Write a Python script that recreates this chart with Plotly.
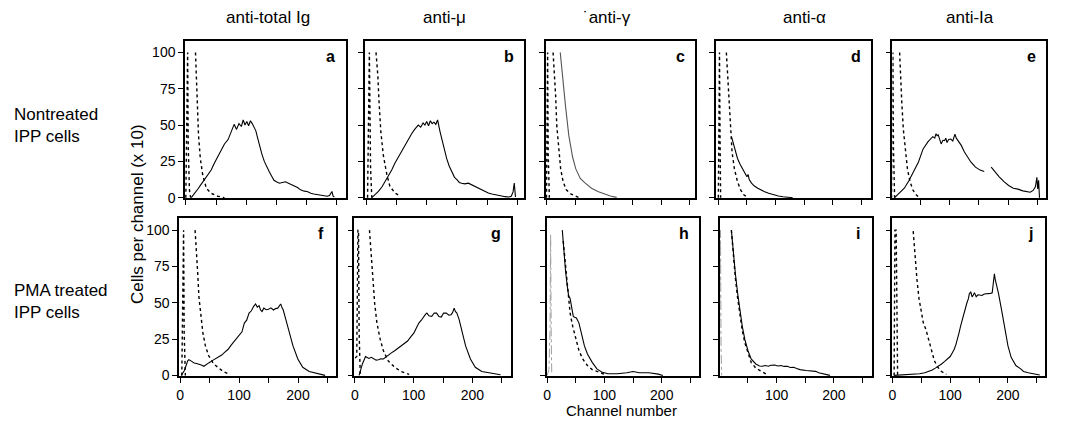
import plotly.graph_objects as go

# --- data (channel number, cells per channel x10) ---
# stained sample = solid line, controls = dotted lines

# a  anti-total Ig, nontreated
a_x = [9, 15, 20, 25, 30, 36, 42, 47, 53, 58, 64, 70, 75, 80, 84, 88, 92, 95, 98, 101, 104, 107, 110, 113,
       116, 119, 122, 126, 130, 134, 138, 142, 146, 150, 155, 160, 165, 170, 175, 180, 185, 190, 196, 201,
       207, 212, 218, 223, 229, 234, 238, 242, 244, 246]
a_y = [0, 3, 6, 9, 12, 15.5, 19, 23.5, 28, 32.5, 37, 40, 45, 50.5, 47, 51, 49, 53.5, 50, 52.5, 49.5, 53, 51, 48.5,
       46, 41, 36, 30, 25, 21, 18, 15, 12, 11, 10, 10.5, 11, 10, 9, 8.5, 7, 5.4, 4.5, 4.3,
       3, 2.5, 2, 1.6, 1.2, 1, 1.5, 4.3, 1, 0.5]
a_c1_x = [0, 2, 3, 4, 6, 8]
a_c1_y = [0, 100, 100, 35, 5, 0]
a_c2_x = [16, 17, 19, 21, 24, 28, 34, 42, 53, 64]
a_c2_y = [100, 90, 65, 43, 27, 15.6, 6.5, 3, 1, 0]

# b  anti-mu, nontreated
b_x = [9, 14, 20, 26, 31, 36, 42, 47, 53, 58, 64, 70, 75, 80, 86, 90, 94, 97, 100, 103, 106, 109, 112, 115,
       118, 122, 125, 128, 133, 137, 141, 146, 150, 154, 158, 163, 169, 174, 180, 185, 191, 196, 202, 208,
       213, 219, 224, 230, 236, 240, 243, 245, 247]
b_y = [0, 2, 4.3, 7.5, 11, 15, 19, 23.5, 28, 32, 36, 40, 44, 47, 50, 48.5, 51.5, 50, 52.5, 49.5, 53, 51, 52, 50.5,
       53.5, 45.5, 40, 35, 27, 22, 18, 14, 12.4, 10.5, 10, 9.5, 10, 9, 7.8, 6.5, 5.5, 4.2, 3.2, 2.5,
       2, 1.5, 1, 0.7, 0.5, 1, 4, 10, 0.5]
b_c1_x = [2, 4, 5, 7, 9]
b_c1_y = [0, 100, 100, 20, 0]
b_c2_x = [16, 19, 21, 24, 28, 34, 39, 47.5, 56]
b_c2_y = [100, 84, 66, 45.5, 29.5, 15.8, 7.8, 3.2, 1]

# c  anti-gamma, nontreated
c_x = [24, 28, 33.5, 39, 45.6, 51, 59, 67.6, 78.6, 89.6, 100.5, 111.5, 122.5]
c_y = [100, 82, 62, 42.7, 28, 20, 13.3, 10, 6.5, 4.3, 2.5, 1.1, 0.2]
c_c1_x = [0, 1, 2, 3, 5]
c_c1_y = [0, 100, 100, 30, 0]
c_c2_x = [11.5, 13.7, 16, 18, 21, 24.7, 29, 34.6, 43, 51, 56.6]
c_c2_y = [100, 88, 70, 49.4, 33.6, 20, 11, 5.4, 2.5, 1, 0]

# d  anti-alpha, nontreated
d_x = [23, 25, 29, 33.5, 38, 41.8, 46, 50, 52, 54, 58, 63, 69, 75, 80, 88, 96.7, 105, 113, 122, 130]
d_y = [42, 39, 32, 27, 23, 20, 17, 14.4, 16, 12.5, 10, 8, 6.5, 5.2, 4.3, 3, 2, 1.2, 0.7, 0.3, 0]
d_c1_x = [0, 1, 2, 3, 4]
d_c1_y = [0, 100, 100, 40, 0]
d_c2_x = [14, 16.5, 18.7, 21, 24, 28, 33.5, 39, 44.5, 50]
d_c2_y = [100, 83, 65, 47, 31.4, 20, 11, 5.4, 2, 0.5]

# e  anti-Ia, nontreated (gap in the printed trace around channel 165)
e_x = [5, 13.6, 21.7, 30, 38, 46, 54, 62.5, 70.7, 74, 76, 78, 80, 83, 85, 88, 90.8, 93, 95, 98, 101.6, 105,
       108.7, 111, 114, 119.6, 125, 130.4, 136, 144, 152, 159, 165, 171, 176.6, 184.8, 193, 201, 209, 217,
       225.5, 232, 238, 243, 247, 249.5, 251, 252.5, 254]
e_y = [0, 3.2, 6.5, 12, 18, 24.6, 33.6, 38.6, 42, 41, 44, 42.7, 43.3, 40, 37, 39.5, 39.3, 41, 38, 40, 40.4, 39,
       43.8, 41, 39.3, 36, 31.4, 28, 24.6, 21, 19, 18, None, 21, 18, 14.4, 11, 8.4, 6.5, 5.9,
       4.7, 4.2, 3.8, 5, 7.5, 14, 6, 12, 0]
e_c1_x = [0, 1, 2, 3, 5]
e_c1_y = [0, 100, 100, 35, 0]
e_c2_x = [13.6, 15, 17.4, 20, 23.4, 27, 31.5, 36.4, 40.8, 46]
e_c2_y = [100, 83, 65, 47, 33.6, 20, 11, 5.4, 2.5, 0.5]

# f  anti-total Ig, PMA treated
f_x = [2, 7.4, 13, 15, 18.4, 21, 24, 28, 32, 36, 40.4, 44, 48.6, 54, 59.6, 65, 70.6, 76, 81.6, 87, 92.6, 97,
       101, 105, 109, 113, 117, 121, 124.5, 128, 131, 134, 136.5, 139, 142, 146, 150, 154, 158.5, 162,
       165.7, 168, 170.6, 173, 175, 179.4, 185, 191.5, 199.7, 208, 219, 230, 241, 246]
f_y = [0, 3.4, 10, 10.8, 10, 9.2, 8.6, 8.2, 7.9, 7.1, 6.3, 7.5, 8.6, 10, 11.3, 12.5, 14, 16, 18, 21, 23.7, 25.5,
       28.2, 30, 36, 38, 42.9, 44.5, 47.4, 49.2, 47, 48, 45, 44, 46.3, 45.2, 45.6, 46.5, 45, 46,
       46.3, 47.5, 49.2, 46.5, 45, 38.4, 29.3, 20.3, 11.3, 5.6, 2.7, 1.8, 0.9, 0]
f_c1_x = [3, 5, 6, 7, 9]
f_c1_y = [0, 100, 100, 30, 0]
f_c2_x = [25.5, 27.7, 30, 32, 35, 38.7, 43, 48.6, 57, 65, 73, 81.6]
f_c2_y = [100, 88, 70, 54, 40.6, 29.3, 20.3, 13.5, 7.9, 5, 2.7, 1.1]

# g  anti-mu, PMA treated
g_x = [7, 12.6, 18, 21, 23.6, 28, 32, 36, 40, 44, 48.4, 52, 56.6, 62, 67.6, 73, 78.6, 84, 89.6, 95, 100.5,
       105, 108.8, 113, 117, 120, 122.5, 126, 130.8, 135, 139, 143, 147, 151, 155.5, 160, 163.7, 166, 169,
       171, 173.6, 177.5, 183, 188.5, 196.7, 205, 216, 227, 238, 248]
g_y = [0, 7.9, 13, 12, 11.7, 12.5, 11.7, 10.5, 10.8, 11.5, 11.3, 12.5, 14, 15.5, 17, 18.5, 20.3, 22, 23.7, 26.5,
       29.3, 33, 36, 38, 40.6, 42, 42.9, 41, 40.6, 43, 42.9, 40.5, 40.2, 43, 42.9, 41.5, 41.8, 43, 46.3,
       44, 42.9, 38.4, 29.3, 20.3, 11.3, 5.6, 2.7, 1.8, 1.1, 0.5]
g_c1_x = [0, 3, 5, 6, 7, 9]
g_c1_y = [12, 13, 100, 100, 30, 0]
g_c2_x = [24.7, 27.5, 30, 33.5, 37.4, 43, 48.4, 56.6, 67.6, 78.6, 92.3]
g_c2_y = [100, 83.5, 65.5, 49.7, 36, 24.8, 17, 10, 5.6, 2.7, 0.7]

# h  anti-gamma, PMA treated
h_x = [26.4, 29, 32, 34.6, 37.4, 40, 43, 45.6, 48, 51, 55.5, 59.3, 65, 70.3, 78.6, 86.8, 95, 106, 122.5,
       139, 150, 161, 177.5, 194, 202]
h_y = [100, 85.8, 72, 63, 55, 53, 47.4, 40.6, 40, 39.5, 36, 29.3, 20.3, 14.7, 9, 4.5, 2.3, 1.1, 1.1,
       1.8, 2.7, 1.8, 1.8, 0.9, 0]
h_c1_x = [0, 3, 5, 6, 7, 8]
h_c1_y = [0, 4, 30, 97, 30, 0]
h_c2_x = [28, 30, 33, 35.7, 40, 44.5, 50, 55.5, 62, 70.3, 78.6, 89.6, 100.5]
h_c2_y = [92.5, 83.5, 70, 56.4, 43, 33.9, 24.8, 17, 11.3, 6.8, 4, 2.3, 0.7]

# i  anti-alpha, PMA treated
i_x = [21, 24, 28, 32, 36, 40, 44.5, 50, 55.5, 60, 63.7, 70, 74.7, 80, 85.7, 90, 96.7, 102, 107.7, 113,
       118.7, 124, 129.7, 135, 140.7, 151.6, 162.6, 168, 173.6, 184.6, 193]
i_y = [100, 85.8, 70, 56.4, 43, 33.9, 24.8, 17, 11.3, 9, 7.9, 6.5, 6.3, 6.8, 6.3, 7, 7.2, 6.5, 6.8, 6.2,
       6.3, 5.5, 5.6, 4.8, 4, 3.4, 3.2, 2.8, 1.8, 0.7, 0]
i_c1_x = [0, 1, 2, 3, 4]
i_c1_y = [0, 100, 100, 20, 0]
i_c2_x = [21, 24, 28, 32, 36, 40, 44.5, 50, 55.5, 63.7, 74.7, 83]
i_c2_y = [100, 84, 67, 53, 40, 31, 22.5, 15, 9, 5, 2.3, 0.7]

# j  anti-Ia, PMA treated
j_x = [3, 25, 47, 56, 63.4, 69, 74.3, 80, 85, 90, 96, 100, 104, 107, 110, 113, 115.3, 118, 120.8, 123, 126,
       129, 131.7, 133, 135.5, 138, 140, 142, 145, 148, 150.8, 155, 159, 163, 167, 170, 172.7, 174.5,
       176.5, 178, 179, 181, 183.6, 189, 194.5, 200, 205.5, 213.7, 222, 227, 235, 245, 255]
j_y = [0, 0.5, 1.1, 1.8, 2.7, 3.8, 5, 6.3, 7.9, 9.5, 11.3, 13, 15.8, 18, 21.4, 25, 29.3, 34, 38.4, 42, 46.3,
       50, 53, 56, 57.6, 54, 55.3, 57, 54.2, 55.5, 55.3, 55, 56, 56, 56.4, 56.5, 56.9, 62,
       70, 66, 64.3, 60, 56.4, 45, 31.6, 20.3, 12.4, 6.8, 4.5, 2.7, 1.8, 0.9, 0.3]
j_c1_x = [3, 4.4, 6.5, 7.5, 9]
j_c1_y = [0, 100, 100, 20, 0]
j_c2_x = [36, 37.7, 40, 42.6, 46, 49.7, 53.6, 58, 62.3, 67, 72.7, 78.7, 85, 93.4]
j_c2_y = [99.3, 90, 81, 65.5, 53, 45, 36, 31.6, 24.8, 17, 10, 5.6, 2.7, 0.7]

col_titles = ["anti-total Ig", "anti-\u03bc", "\u02d9anti-\u03b3", "anti-\u03b1", "anti-Ia"]
row_titles = ["Nontreated<br>IPP cells", "PMA treated<br>IPP cells"]
letters = ["a", "b", "c", "d", "e", "f", "g", "h", "i", "j"]
y_ticks = [0, 25, 50, 75, 100]
x_ticks = [0, 50, 100, 150, 200, 250]
x_tick_text = ["0", "", "100", "", "200", ""]

panels = [
    (a_x, a_y, a_c1_x, a_c1_y, a_c2_x, a_c2_y),
    (b_x, b_y, b_c1_x, b_c1_y, b_c2_x, b_c2_y),
    (c_x, c_y, c_c1_x, c_c1_y, c_c2_x, c_c2_y),
    (d_x, d_y, d_c1_x, d_c1_y, d_c2_x, d_c2_y),
    (e_x, e_y, e_c1_x, e_c1_y, e_c2_x, e_c2_y),
    (f_x, f_y, f_c1_x, f_c1_y, f_c2_x, f_c2_y),
    (g_x, g_y, g_c1_x, g_c1_y, g_c2_x, g_c2_y),
    (h_x, h_y, h_c1_x, h_c1_y, h_c2_x, h_c2_y),
    (i_x, i_y, i_c1_x, i_c1_y, i_c2_x, i_c2_y),
    (j_x, j_y, j_c1_x, j_c1_y, j_c2_x, j_c2_y),
]

# --- layout geometry (pixels in the 1080x425 page); pasted-up panels differ a little ---
W, H = 1080, 425
# left, right, pixel of channel 0, pixels per channel
boxes = [
    (181.7, 343.0, 182.5, 0.606), (362.0, 522.0, 363.7, 0.606), (544.0, 694.0, 544.5, 0.575),
    (714.3, 870.0, 717.0, 0.574), (891.7, 1046.0, 891.0, 0.584),
    (175.7, 333.3, 176.7, 0.592), (351.7, 509.0, 352.3, 0.589), (545.0, 697.7, 545.2, 0.575),
    (718.3, 871.7, 718.0, 0.575), (891.7, 1045.0, 891.7, 0.580),
]
# top, bottom, pixel of y=0, pixel of y=100
rows_px = [(41.7, 201.7, 201.0, 53.3), (221.7, 382.3, 381.7, 234.0)]
FONT = "Liberation Sans, Arial, Helvetica, sans-serif"

fig = go.Figure()
layout = {}
annotations = []

for n, (sx, sy, c1x, c1y, c2x, c2y) in enumerate(panels):
    row, col = divmod(n, 5)
    ax = "" if n == 0 else str(n + 1)
    xref, yref = "x" + ax, "y" + ax

    faint = n in (7, 8)  # h and i: first control printed faintly
    fig.add_trace(go.Scatter(x=c1x, y=c1y, mode="lines", xaxis=xref, yaxis=yref,
                             line=dict(color="#a0a0a0" if faint else "black",
                                       width=1 if faint else 1.4,
                                       dash="dashdot" if faint else "dot")))
    fig.add_trace(go.Scatter(x=c2x, y=c2y, mode="lines", xaxis=xref, yaxis=yref,
                             line=dict(color="black", width=1.4, dash="dot")))
    fig.add_trace(go.Scatter(x=sx, y=sy, mode="lines", xaxis=xref, yaxis=yref, connectgaps=False,
                             line=dict(color="#555" if n == 2 else "black", width=1.1)))

    left, right, x0, s = boxes[n]
    top, bottom, y0, y100 = rows_px[row]
    py = (y0 - y100) / 100.0
    layout["xaxis" + ax] = dict(
        domain=[left / W, right / W], anchor=yref,
        range=[(left - x0) / s, (right - x0) / s],
        showline=True, linecolor="black", linewidth=1.5, mirror=True,
        showgrid=False, zeroline=False, ticks="outside", ticklen=5, tickwidth=1.3,
        tickcolor="black", tickvals=x_ticks,
        ticktext=x_tick_text if row == 1 else [""] * len(x_ticks),
        tickfont=dict(family=FONT, size=14, color="black"))
    layout["yaxis" + ax] = dict(
        domain=[1 - bottom / H, 1 - top / H], anchor=xref,
        range=[-(bottom - y0) / py, (y0 - top) / py],
        showline=True, linecolor="black", linewidth=1.5, mirror=True,
        showgrid=False, zeroline=False, ticks="outside", ticklen=5, tickwidth=1.3,
        tickcolor="black", tickvals=y_ticks,
        ticktext=[str(v) for v in y_ticks] if col == 0 else [""] * len(y_ticks),
        tickfont=dict(family=FONT, size=14, color="black"))

    annotations.append(dict(x=(right - 15) / W, y=1 - (top + 16) / H, xref="paper", yref="paper",
                            text="<b>%s</b>" % letters[n], showarrow=False,
                            xanchor="center", yanchor="middle",
                            font=dict(family=FONT, size=16, color="black")))

title_cx = [265, 442, 605, 803, 970]
for col, t in enumerate(col_titles):
    annotations.append(dict(x=title_cx[col] / W, y=1 - 18 / H, xref="paper", yref="paper",
                            text=t, showarrow=False, xanchor="center", yanchor="middle",
                            font=dict(family=FONT, size=17, color="black")))

for row, t in enumerate(row_titles):
    cy = [128, 307][row]
    annotations.append(dict(x=8 / W, y=1 - cy / H, xref="paper", yref="paper", text=t,
                            showarrow=False, xanchor="left", yanchor="middle", align="left",
                            font=dict(family=FONT, size=17, color="black")))

annotations.append(dict(x=134 / W, y=1 - 218 / H, xref="paper", yref="paper",
                        text="Cells per channel (x 10)", textangle=-90, showarrow=False,
                        xanchor="center", yanchor="middle",
                        font=dict(family=FONT, size=17, color="black")))
annotations.append(dict(x=620 / W, y=1 - 417 / H, xref="paper", yref="paper",
                        text="Channel number", showarrow=False, xanchor="center", yanchor="middle",
                        font=dict(family=FONT, size=15, color="black")))

fig.update_layout(**layout)
fig.update_layout(width=W, height=H, margin=dict(l=0, r=0, t=0, b=0),
                  paper_bgcolor="white", plot_bgcolor="white", showlegend=False,
                  annotations=annotations)

# drop the default page margin so the 1080x425 figure fills the window exactly
fig.write_html("out.html", config={"displayModeBar": False},
               post_script="document.body.style.margin='0';")
